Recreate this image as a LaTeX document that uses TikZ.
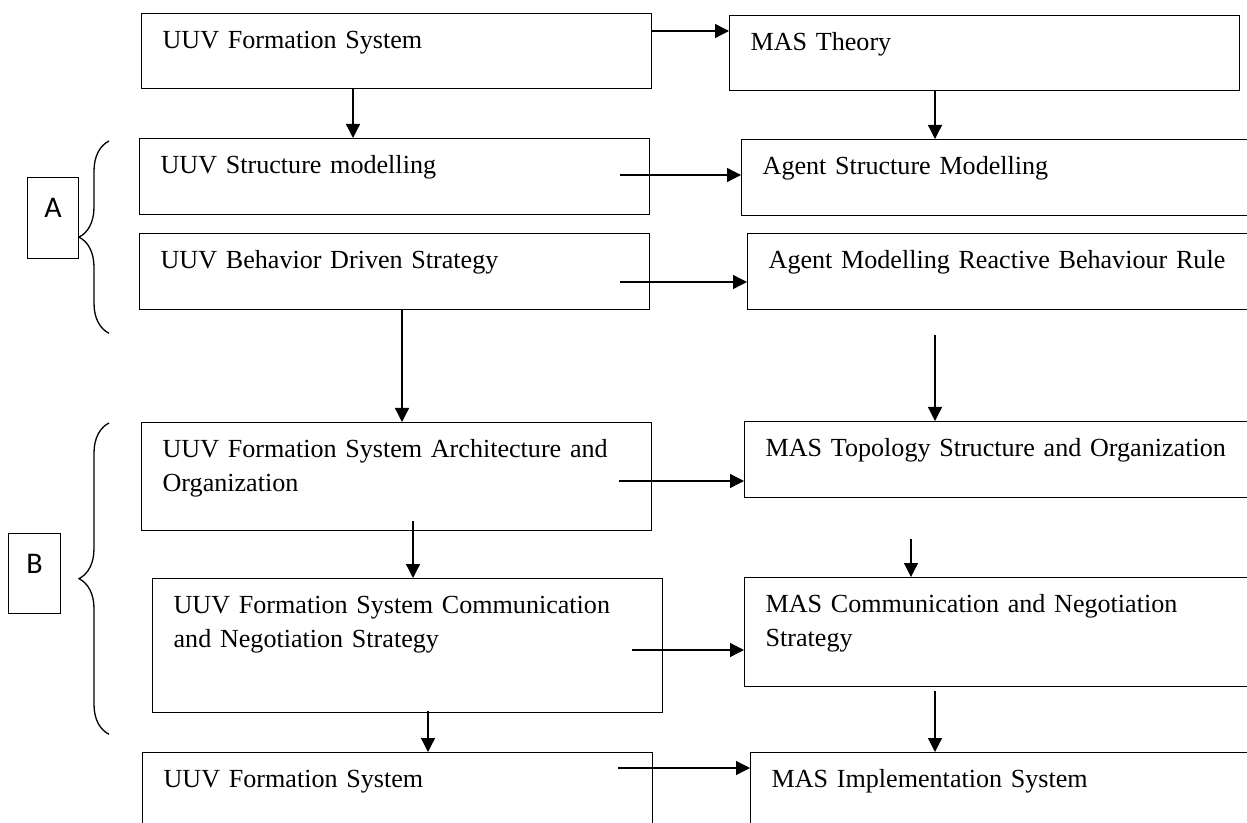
\documentclass[tikz,border=0pt]{standalone}
\usepackage{fontspec}
\setmainfont{Liberation Serif}
\newfontfamily\grpfont{Carlito}
\usetikzlibrary{arrows.meta,calc,decorations.pathreplacing}
\tikzset{
  >={Triangle[length=7pt,width=7pt]},
  every node/.style={font=\fontsize{13.05pt}{17pt}\selectfont},
  box/.style={draw,line width=0.65pt,anchor=north west,align=left,inner xsep=10.5pt,inner ysep=0pt,text height=17.5pt},
  lbox/.style={box,text width=234pt},
  rbox/.style={box,text width=250pt},
  grp/.style={draw,line width=0.65pt,anchor=north west,minimum width=25.5pt,minimum height=40.5pt,inner sep=0pt,font=\grpfont\fontsize{15pt}{18pt}\selectfont,text height=9.7pt,text depth=10pt},
  arrow/.style={->,line width=0.65pt},
  brc/.style={decorate,decoration={brace,amplitude=15pt},line width=0.65pt},
}
\begin{document}
\begin{tikzpicture}[x=0.5pt,y=-0.5pt]
\useasboundingbox (0,0) rectangle (1247,823);
\clip (0,0) rectangle (1247,823);

% UUV side
\node[lbox,text depth=20pt] (u1) at (141,13) {UUV Formation System};
\node[lbox,text depth=20.5pt] (u2) at (139,138) {UUV Structure modelling};
\node[lbox,text depth=20.5pt] (u3) at (139,233) {UUV Behavior Driven Strategy};
\node[lbox,text depth=36.5pt] (u4) at (141,422) {UUV Formation System Architecture and\\Organization};
\node[lbox,text depth=49.5pt] (u5) at (152,578) {UUV Formation System Communication\\and Negotiation Strategy};
\node[lbox,text depth=40pt] (u6) at (142,752) {UUV Formation System};

% MAS side
\node[lbox,text depth=20pt] (m1) at (729,15) {MAS Theory};
\node[rbox,text depth=20.5pt] (m2) at (741,139) {Agent Structure Modelling};
\node[rbox,text depth=20.5pt] (m3) at (747,233) {Agent Modelling Reactive Behaviour Rule};
\node[rbox,text depth=20.5pt] (m4) at (744,421) {MAS Topology Structure and Organization};
\node[rbox,text depth=37pt] (m5) at (744,577) {MAS Communication and Negotiation\\Strategy};
\node[rbox,text depth=40pt] (m6) at (750,752) {MAS Implementation System};

% groups A + B
\node[grp] (ga) at (27,177) {A};
\node[grp,minimum width=26pt,minimum height=40pt] (gb) at (8,533) {B};
\draw[brc] ($(u3.south west)+(-30,23)$) -- ($(u2.north west)+(-30,3)$);
\draw[brc] ($(u5.south west)+(-43,21)$) -- ($(u4.north west)+(-32,1)$);

% arrows
\foreach \u/\m/\dx/\dy in {u1/m1/0/18,u2/m2/-30/37,u3/m3/-30/49,u4/m4/-33/59,u5/m5/-31/72,u6/m6/-35/16}
  {\coordinate (s) at ($(\u.north east)+(\dx,\dy)$); \draw[arrow] (s) -- (s -| \m.west);}
\foreach \a/\b/\dx/\dy in {u1/u2/212/0,m1/m2/206/0,u3/u4/263/0,m3/m4/188/25,u4/u5/272/-10,m4/m5/167/41,u5/u6/276/-2,m5/m6/191/4}
  {\coordinate (s) at ($(\a.south west)+(\dx,\dy)$); \draw[arrow] (s) -- (s |- \b.north);}

\end{tikzpicture}
\end{document}
